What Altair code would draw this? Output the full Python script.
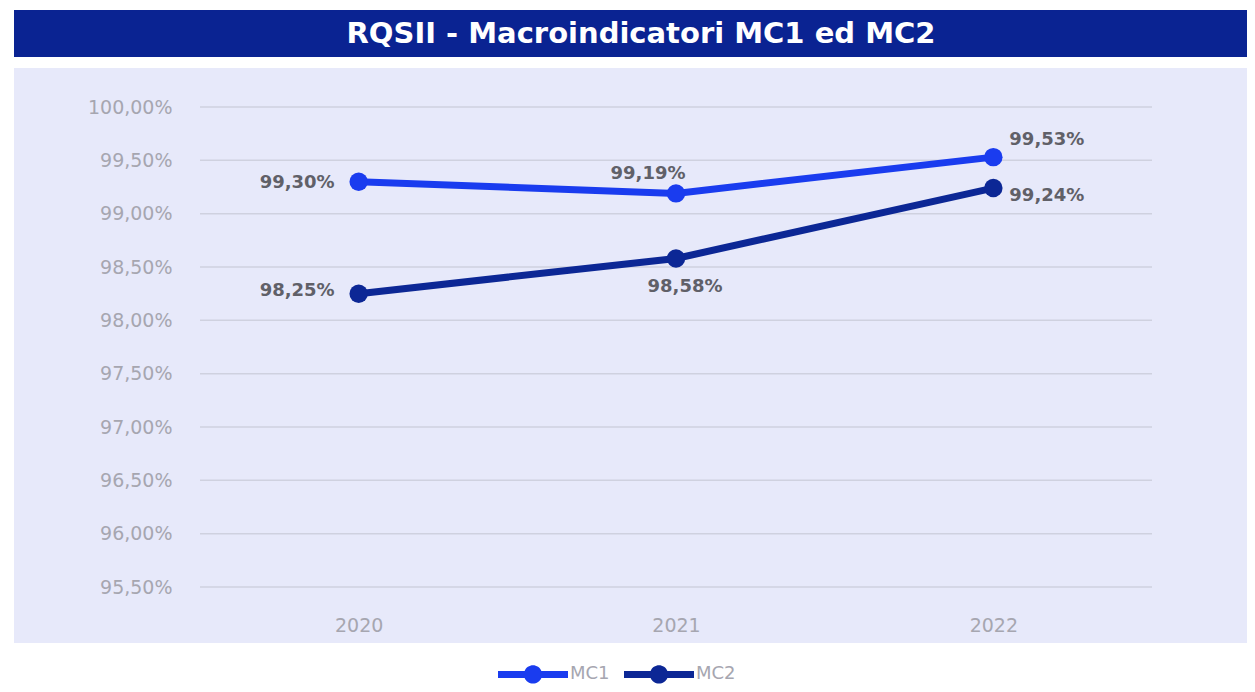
import altair as alt
import pandas as pd

# ---- data ----
years = ["2020", "2021", "2022"]
mc1 = [99.30, 99.19, 99.53]
mc2 = [98.25, 98.58, 99.24]
series_names = ["MC1", "MC2"]
y_ticks = [95.5, 96.0, 96.5, 97.0, 97.5, 98.0, 98.5, 99.0, 99.5, 100.0]
title_text = "RQSII - Macroindicatori MC1 ed MC2"

rows = []
for name, vals in zip(series_names, [mc1, mc2]):
    for yr, v in zip(years, vals):
        rows.append({"year": yr, "value": v, "series": name})
df = pd.DataFrame(rows)
grid_df = pd.DataFrame({"value": y_ticks})
one = pd.DataFrame({"k": [0]})

W, H = 952, 480
FONT = "DejaVu Sans"
C_MC1 = "#1a3cef"
C_MC2 = "#0c2795"
C_BAR = "#0a2392"
C_PANEL = "#e7e9fa"
C_AXIS = "#a6a6b0"

x_enc = alt.X("year:O", scale=alt.Scale(padding=0.5),
              axis=alt.Axis(title=None, labelAngle=0, domain=False, ticks=False, grid=False,
                            labelColor=C_AXIS, labelFontSize=19, labelFont=FONT,
                            labelPadding=29, zindex=1))
y_axis = alt.Axis(title=None, values=y_ticks, domain=False, ticks=False, grid=False,
                  labelColor=C_AXIS, labelFontSize=19, labelFont=FONT,
                  labelPadding=28, zindex=1,
                  labelExpr="replace(format(datum.value, '.2f'), '.', ',') + '%'")
y_scale = alt.Scale(domain=[95.5, 100], zero=False, nice=False)
y_enc = alt.Y("value:Q", scale=y_scale, axis=y_axis)
color_scale = alt.Scale(domain=series_names, range=[C_MC1, C_MC2])

sym_path = ("M-1,-0.1L-0.24,-0.1A0.26,0.26,0,0,1,0.24,-0.1L1,-0.1L1,0.1L0.24,0.1"
            "A0.26,0.26,0,0,1,-0.24,0.1L-1,0.1Z")
legend = alt.Legend(title=None, orient="none", legendX=298, legendY=532,
                    direction="horizontal", symbolType=sym_path,
                    symbolSize=4900, symbolStrokeWidth=0, symbolOpacity=1,
                    labelFont=FONT, labelFontSize=18, labelColor=C_AXIS,
                    labelOffset=2, columnPadding=14, padding=0)
color_enc = alt.Color("series:N", scale=color_scale, legend=legend)

panel = alt.Chart(one).mark_rect(color=C_PANEL).encode(
    x=alt.value(-186), x2=alt.value(1048), y=alt.value(-39), y2=alt.value(536))
bar = alt.Chart(one).mark_rect(color=C_BAR).encode(
    x=alt.value(-186), x2=alt.value(1060), y=alt.value(-97), y2=alt.value(-50))
title = alt.Chart(one).mark_text(color="white", font=FONT, fontSize=29, fontWeight="bold",
                                 align="center", baseline="middle").encode(
    x=alt.value(441), y=alt.value(-73), text=alt.value(title_text))

grid = alt.Chart(grid_df).mark_rule(color="#cfd1df", strokeWidth=1.5).encode(
    y=y_enc, x=alt.value(0), x2=alt.value(W))

lines = alt.Chart(df).mark_line(strokeWidth=7).encode(
    x=x_enc, y=y_enc, color=color_enc)

points = alt.Chart(df).mark_circle(size=340, opacity=1).encode(
    x=x_enc, y=y_enc, color=color_enc)

placements = {
    ("MC1", "2020"): ("right", -24, 1),
    ("MC1", "2021"): ("center", -28, -19),
    ("MC1", "2022"): ("left", 16, -17),
    ("MC2", "2020"): ("right", -24, -3),
    ("MC2", "2021"): ("center", 9, 29),
    ("MC2", "2022"): ("left", 16, 8),
}
label_layers = []
for (s, yr), (al, dx, dy) in placements.items():
    label_layers.append(
        alt.Chart(df).transform_filter(
            (alt.datum.series == s) & (alt.datum.year == yr)
        ).transform_calculate(
            lbl="replace(format(datum.value, '.2f'), '.', ',') + '%'"
        ).mark_text(align=al, baseline="middle", dx=dx, dy=dy, font=FONT, fontSize=18,
                    fontWeight="bold", color="#606068").encode(
            x=x_enc, y=y_enc, text="lbl:N")
    )

chart = alt.layer(panel, bar, title, grid, lines, points, *label_layers).properties(
    width=W, height=H,
    padding={"left": 192, "top": 99, "right": 95, "bottom": 97},
    autosize=alt.AutoSizeParams(type="none"),
).configure(background="white").configure_view(stroke=None)

chart.save("out.html", embed_options={"renderer": "svg", "actions": False})
